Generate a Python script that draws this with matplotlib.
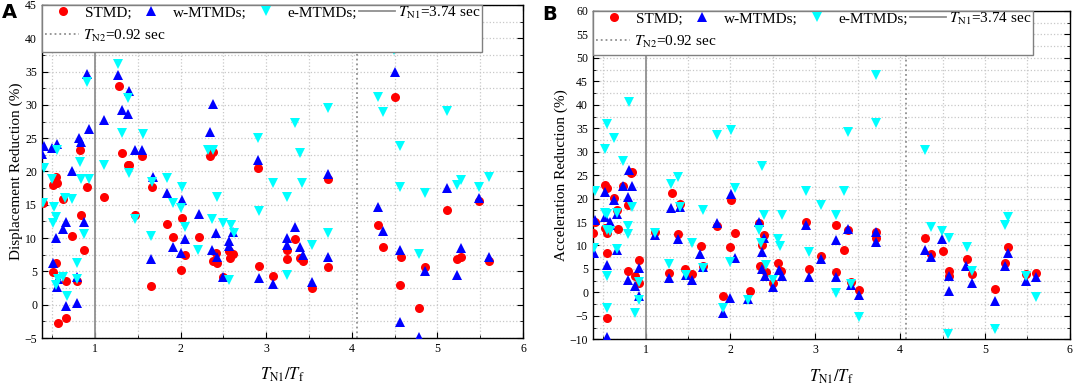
import matplotlib
matplotlib.use("Agg")
import matplotlib.pyplot as plt
from matplotlib.ticker import MultipleLocator
from matplotlib.lines import Line2D
from matplotlib.patches import Rectangle

plt.rcParams['font.family'] = ['Liberation Serif', 'DejaVu Serif']
plt.rcParams['mathtext.fontset'] = 'stix'

# ---- Panel A : displacement reduction (%) ----
a_stmd_x = [0.39, 0.51, 0.54, 0.51, 0.54, 0.55, 0.57, 0.62, 0.66, 0.66, 0.73, 0.79, 0.82, 0.84, 0.87, 0.91,
            1.11, 1.28, 1.31, 1.38, 1.40, 1.47, 1.55, 1.65, 1.67, 1.84, 1.91, 2.00, 2.01, 2.05, 2.22,
            2.34, 2.38, 2.38, 2.43, 2.41, 2.56, 2.58, 2.61, 2.49, 2.90, 2.92, 3.08, 3.24, 3.24, 3.34,
            3.39, 3.43, 3.53, 3.72, 3.72, 4.50, 4.30, 4.36, 4.57, 4.56, 4.86, 4.79, 5.11, 5.23, 5.27,
            5.48, 5.60]
a_stmd_y = [15.2, 4.9, 6.2, 17.9, 19.1, 18.3, -2.8, 15.9, 3.6, -2.0, 10.3, 3.5, 23.2, 13.5, 8.2, 17.6,
            16.1, 32.8, 22.8, 21.0, 21.0, 13.4, 22.3, 2.8, 17.7, 12.1, 10.1, 5.2, 13.0, 7.5, 10.2,
            22.4, 22.9, 6.6, 6.2, 7.7, 8.1, 7.0, 7.6, 4.2, 20.5, 5.8, 4.3, 8.2, 6.9, 9.8,
            7.0, 6.6, 2.5, 18.9, 5.6, 31.2, 12.0, 8.7, 7.1, 2.9, 5.7, -0.5, 14.2, 6.8, 7.1,
            15.6, 6.6]

a_w_x = [0.38, 0.40, 0.51, 0.54, 0.55, 0.50, 0.56, 0.57, 0.62, 0.66, 0.66, 0.73, 0.79, 0.79, 0.81, 0.84,
         0.87, 0.91, 0.93, 1.11, 1.27, 1.31, 1.38, 1.40, 1.47, 1.55, 1.65, 1.68, 1.84, 1.91, 2.00,
         2.02, 2.05, 2.22, 2.38, 2.34, 2.41, 2.37, 2.43, 2.56, 2.57, 2.61, 2.49, 2.90, 2.92, 3.08,
         3.34, 3.24, 3.24, 3.40, 3.43, 3.53, 3.72, 3.72, 4.50, 4.30, 4.36, 4.56, 4.56, 4.86, 4.79,
         5.11, 5.27, 5.23, 5.48, 5.60]
a_w_y = [22.6, 23.9, 6.3, 10.0, 24.2, 23.6, 2.6, 3.9, 11.4, 12.4, -0.2, 20.1, 4.2, 0.2, 25.0, 24.4,
         12.4, 34.7, 26.4, 27.8, 34.5, 29.3, 28.7, 32.1, 23.2, 23.2, 6.8, 19.2, 16.8, 8.6, 7.7,
         15.7, 9.9, 13.6, 30.2, 26.0, 10.7, 8.2, 7.2, 9.5, 8.8, 10.9, 4.2, 21.8, 4.0, 3.1,
         11.7, 10.0, 9.0, 8.7, 7.5, 3.4, 19.6, 7.1, 34.9, 14.7, 11.0, 8.2, -2.6, 5.0, -4.8,
         17.5, 8.5, 4.5, 16.0, 7.1]

a_e_x = [0.39, 0.40, 0.50, 0.52, 0.51, 0.54, 0.55, 0.54, 0.57, 0.62, 0.65, 0.67, 0.73, 0.79, 0.79, 0.82,
         0.84, 0.87, 0.91, 0.93, 1.11, 1.27, 1.31, 1.38, 1.40, 1.47, 1.56, 1.65, 1.67, 1.84, 1.91,
         2.01, 2.00, 2.05, 2.20, 2.32, 2.38, 2.42, 2.37, 2.50, 2.59, 2.62, 2.56, 2.90, 2.92, 3.08,
         3.34, 3.40, 3.42, 3.24, 3.24, 3.53, 3.72, 3.72, 4.49, 4.30, 4.36, 5.11, 4.56, 4.56, 4.86,
         4.79, 5.23, 5.27, 5.48, 5.60]
a_e_y = [15.3, 20.6, 18.8, 14.7, 12.3, 13.1, 23.3, 2.9, 3.8, 4.2, 16.0, 1.3, 15.9, 6.2, 3.8, 21.5,
         18.9, 10.6, 33.4, 18.9, 21.0, 36.1, 25.8, 31.0, 19.8, 12.8, 25.6, 10.3, 18.4, 19.0, 15.3,
         17.6, 14.5, 11.6, 8.2, 23.2, 23.3, 16.1, 12.8, 12.2, 12.0, 10.7, 3.7, 25.0, 14.0, 18.2,
         27.3, 22.8, 18.2, 16.2, 4.5, 9.0, 29.5, 10.8, 38.3, 31.2, 28.9, 29.1, 23.8, 17.6, 16.7,
         7.6, 17.9, 18.7, 17.7, 19.1]

# ---- Panel B : acceleration reduction (%) ----
b_stmd_x = [0.38, 0.40, 0.52, 0.55, 0.52, 0.55, 0.55, 0.55, 0.63, 0.66, 0.67, 0.73, 0.79, 0.79, 0.83, 0.84,
            0.87, 0.92, 0.92, 1.11, 1.28, 1.31, 1.38, 1.40, 1.47, 1.55, 1.65, 1.68, 1.84, 1.91, 1.99,
            2.01, 2.05, 2.23, 2.34, 2.40, 2.37, 2.35, 2.42, 2.50, 2.56, 2.59, 2.89, 2.92, 3.07, 3.24,
            3.24, 3.34, 3.39, 3.42, 3.52, 3.71, 3.71, 4.29, 4.36, 4.50, 4.57, 4.57, 4.79, 4.85, 5.12,
            5.24, 5.27, 5.48, 5.60]
b_stmd_y = [12.7, 15.0, 23.0, 22.3, 13.7, 12.7, 8.4, -5.5, 20.1, 17.6, 13.6, 22.7, 18.6, 4.5, 25.5, 25.7,
            3.4, 7.0, 2.0, 12.9, 4.2, 21.2, 12.4, 18.9, 4.9, 4.0, 9.8, 5.6, 14.2, -0.8, 9.7,
            19.8, 12.7, 0.4, 14.8, 12.3, 10.2, 5.6, 4.4, 2.0, 6.3, 4.6, 15.0, 5.0, 7.8, 14.3,
            4.4, 9.0, 13.2, 2.2, 0.5, 12.9, 11.6, 11.6, 8.1, 8.8, 4.6, 3.4, 7.2, 4.0, 0.8,
            6.3, 9.7, 3.9, 4.2]

b_w_x = [0.40, 0.39, 0.52, 0.52, 0.55, 0.55, 0.58, 0.58, 0.63, 0.66, 0.66, 0.73, 0.79, 0.79, 0.81, 0.84,
         0.87, 0.92, 0.92, 1.11, 1.28, 1.30, 1.38, 1.40, 1.48, 1.55, 1.64, 1.68, 1.84, 1.91, 1.99,
         2.01, 2.05, 2.21, 2.34, 2.40, 2.37, 2.37, 2.41, 2.50, 2.57, 2.61, 2.89, 2.92, 3.07, 3.24,
         3.24, 3.39, 3.42, 3.52, 3.71, 3.71, 4.29, 4.36, 4.49, 4.57, 4.57, 4.78, 4.85, 5.12, 5.24,
         5.27, 5.48, 5.60]
b_w_y = [15.5, 8.4, 21.5, 16.1, -9.5, 5.8, 15.0, 14.3, 19.6, 9.1, 16.7, 22.6, 20.3, 2.7, 26.0, 22.7,
         1.3, 5.1, -0.8, 12.2, 3.1, 17.9, 11.3, 18.2, 3.7, 2.7, 8.1, 5.4, 14.8, -4.3, -1.3,
         20.9, 7.3, -1.5, 15.0, 11.6, 8.6, 4.9, 3.4, 1.2, 4.7, 3.5, 14.3, 3.3, 7.2, 11.1,
         3.3, 13.6, 1.5, -0.5, 12.9, 10.8, 9.1, 7.6, 11.3, 3.4, 0.3, 5.6, 2.1, -1.8, 5.6,
         8.4, 2.5, 3.2]

b_e_x = [0.40, 0.39, 0.52, 0.55, 0.52, 0.55, 0.55, 0.55, 0.55, 0.58, 0.63, 0.66, 0.66, 0.73, 0.81, 0.79,
         0.79, 0.84, 0.87, 0.92, 0.92, 1.11, 1.28, 1.30, 1.38, 1.40, 1.48, 1.55, 1.68, 1.68, 1.84,
         1.91, 2.01, 1.99, 2.05, 2.21, 2.37, 2.34, 2.40, 2.36, 2.42, 2.50, 2.56, 2.58, 2.61, 2.89,
         2.92, 3.07, 3.24, 3.24, 3.34, 3.38, 3.42, 3.52, 3.71, 3.71, 4.29, 4.36, 4.49, 4.57, 4.79,
         4.85, 4.56, 5.12, 5.24, 5.27, 5.48, 5.60]
b_e_y = [21.6, 9.4, 30.6, 35.9, 17.0, 16.8, 13.3, 3.5, -3.4, 13.1, 33.0, 16.9, 9.3, 28.1, 40.6, 14.1,
         12.5, 18.2, -4.3, 2.3, -1.7, 12.7, 6.1, 23.2, 24.7, 18.1, 3.8, 10.6, 5.1, 17.5, 33.5,
         -3.3, 34.7, 6.5, 22.3, -1.6, 26.9, 13.4, 16.4, 10.5, 5.8, 2.6, 11.3, 9.8, 16.4, 21.7,
         8.6, 18.6, 16.4, -0.1, 21.6, 34.2, 1.7, -5.2, 46.4, 36.1, 30.3, 13.9, 13.0, 11.6, 9.7,
         4.5, -8.9, -7.9, 14.4, 16.1, 3.4, -1.0]

t_n1 = 3.74
t_n2 = 0.92

RED, BLUE, CYAN, GREY = '#FF0000', '#0000FF', '#00FFFF', '#909090'


def draw_panel(ax, sx, sy, wx, wy, ex, ey, ylim, ylabel, tag, tag_pos, frame_h):
    ax.plot(sx, sy, 'o', color=RED, markersize=6.5, markeredgewidth=0, zorder=3)
    ax.plot(wx, wy, '^', color=BLUE, markersize=7.5, markeredgewidth=0, zorder=4)
    ax.plot(ex, ey, 'v', color=CYAN, markersize=7.5, markeredgewidth=0, zorder=5)
    ax.axvline(1.0, color=GREY, lw=1.3, zorder=2)
    ax.axvline(t_n1 / t_n2, color=GREY, lw=1.3, ls=':', zorder=2)

    ax.set_xlim(0.38, 6)
    ax.set_ylim(*ylim)
    ax.xaxis.set_major_locator(MultipleLocator(1))
    ax.xaxis.set_minor_locator(MultipleLocator(0.5))
    ax.yaxis.set_major_locator(MultipleLocator(5))
    ax.yaxis.set_minor_locator(MultipleLocator(2.5))
    ax.grid(True, which='both', ls=':', color='#C8C8C8', lw=0.9, zorder=0)
    ax.set_axisbelow(True)
    ax.tick_params(which='both', direction='in', top=True, right=True, labelsize=8.5)
    ax.tick_params(which='major', length=4)
    ax.tick_params(which='minor', length=2.5)
    for sp in ax.spines.values():
        sp.set_linewidth(1.0)

    ax.set_xlabel(r'$T_{\rm N1}/T_{\rm f}$', fontsize=12, labelpad=8)
    ax.set_ylabel(ylabel, fontsize=11, labelpad=1)

    # legend box: fixed 440 px wide, drawn over the points
    bb = ax.get_position()
    w_frac = 440 / (bb.width * 1074)
    box = Rectangle((0, 1 - frame_h), w_frac, frame_h, transform=ax.transAxes,
                    facecolor='white', edgecolor='#808080', lw=1.0, zorder=8, clip_on=False)
    ax.add_patch(box)

    h_s = Line2D([], [], marker='o', ls='', color=RED, markersize=6.5, markeredgewidth=0)
    h_w = Line2D([], [], marker='^', ls='', color=BLUE, markersize=7.5, markeredgewidth=0)
    h_e = Line2D([], [], marker='v', ls='', color=CYAN, markersize=7.5, markeredgewidth=0)
    h_1 = Line2D([], [], color=GREY, lw=1.3)
    h_2 = Line2D([], [], color=GREY, lw=1.3, ls=':')

    leg1 = ax.legend([h_s, h_w, h_e, h_1],
                     ['STMD;', 'w-MTMDs;', 'e-MTMDs;', r'$T_{\rm N1}$=3.74 sec'],
                     loc='upper left', bbox_to_anchor=(0, 1.01), ncol=4, fontsize=11,
                     frameon=False, borderaxespad=0, borderpad=0.2, handlelength=2.4,
                     handletextpad=0.2, columnspacing=0.1)
    leg1.set_zorder(9)
    ax.add_artist(leg1)
    leg2 = ax.legend([h_2], [r'$T_{\rm N2}$=0.92 sec'],
                     loc='upper left', bbox_to_anchor=(0, 1.01 - 23 / (bb.height * 387)),
                     fontsize=11, frameon=False, borderaxespad=0, borderpad=0.2,
                     handlelength=2.2, handletextpad=0.3)
    leg2.set_zorder(9)

    ax.text(tag_pos[0], tag_pos[1], tag, transform=ax.transAxes, fontsize=14, fontweight='bold',
            family='DejaVu Sans', va='center', ha='center')


fig = plt.figure(figsize=(10.74, 3.87), dpi=100)
ax1 = fig.add_axes([0.0391, 0.1266, 0.4479, 0.8605])
ax2 = fig.add_axes([0.5521, 0.1233, 0.4441, 0.8483])

draw_panel(ax1, a_stmd_x, a_stmd_y, a_w_x, a_w_y, a_e_x, a_e_y, (-5, 45),
           'Displacement Reduction (%)', 'A', (-0.068, 0.976), 47 / 333)
draw_panel(ax2, b_stmd_x, b_stmd_y, b_w_x, b_w_y, b_e_x, b_e_y, (-10, 60),
           'Acceleration Reduction (%)', 'B', (-0.09, 0.99), 44 / 328)

fig.savefig('out.png', dpi=100)
